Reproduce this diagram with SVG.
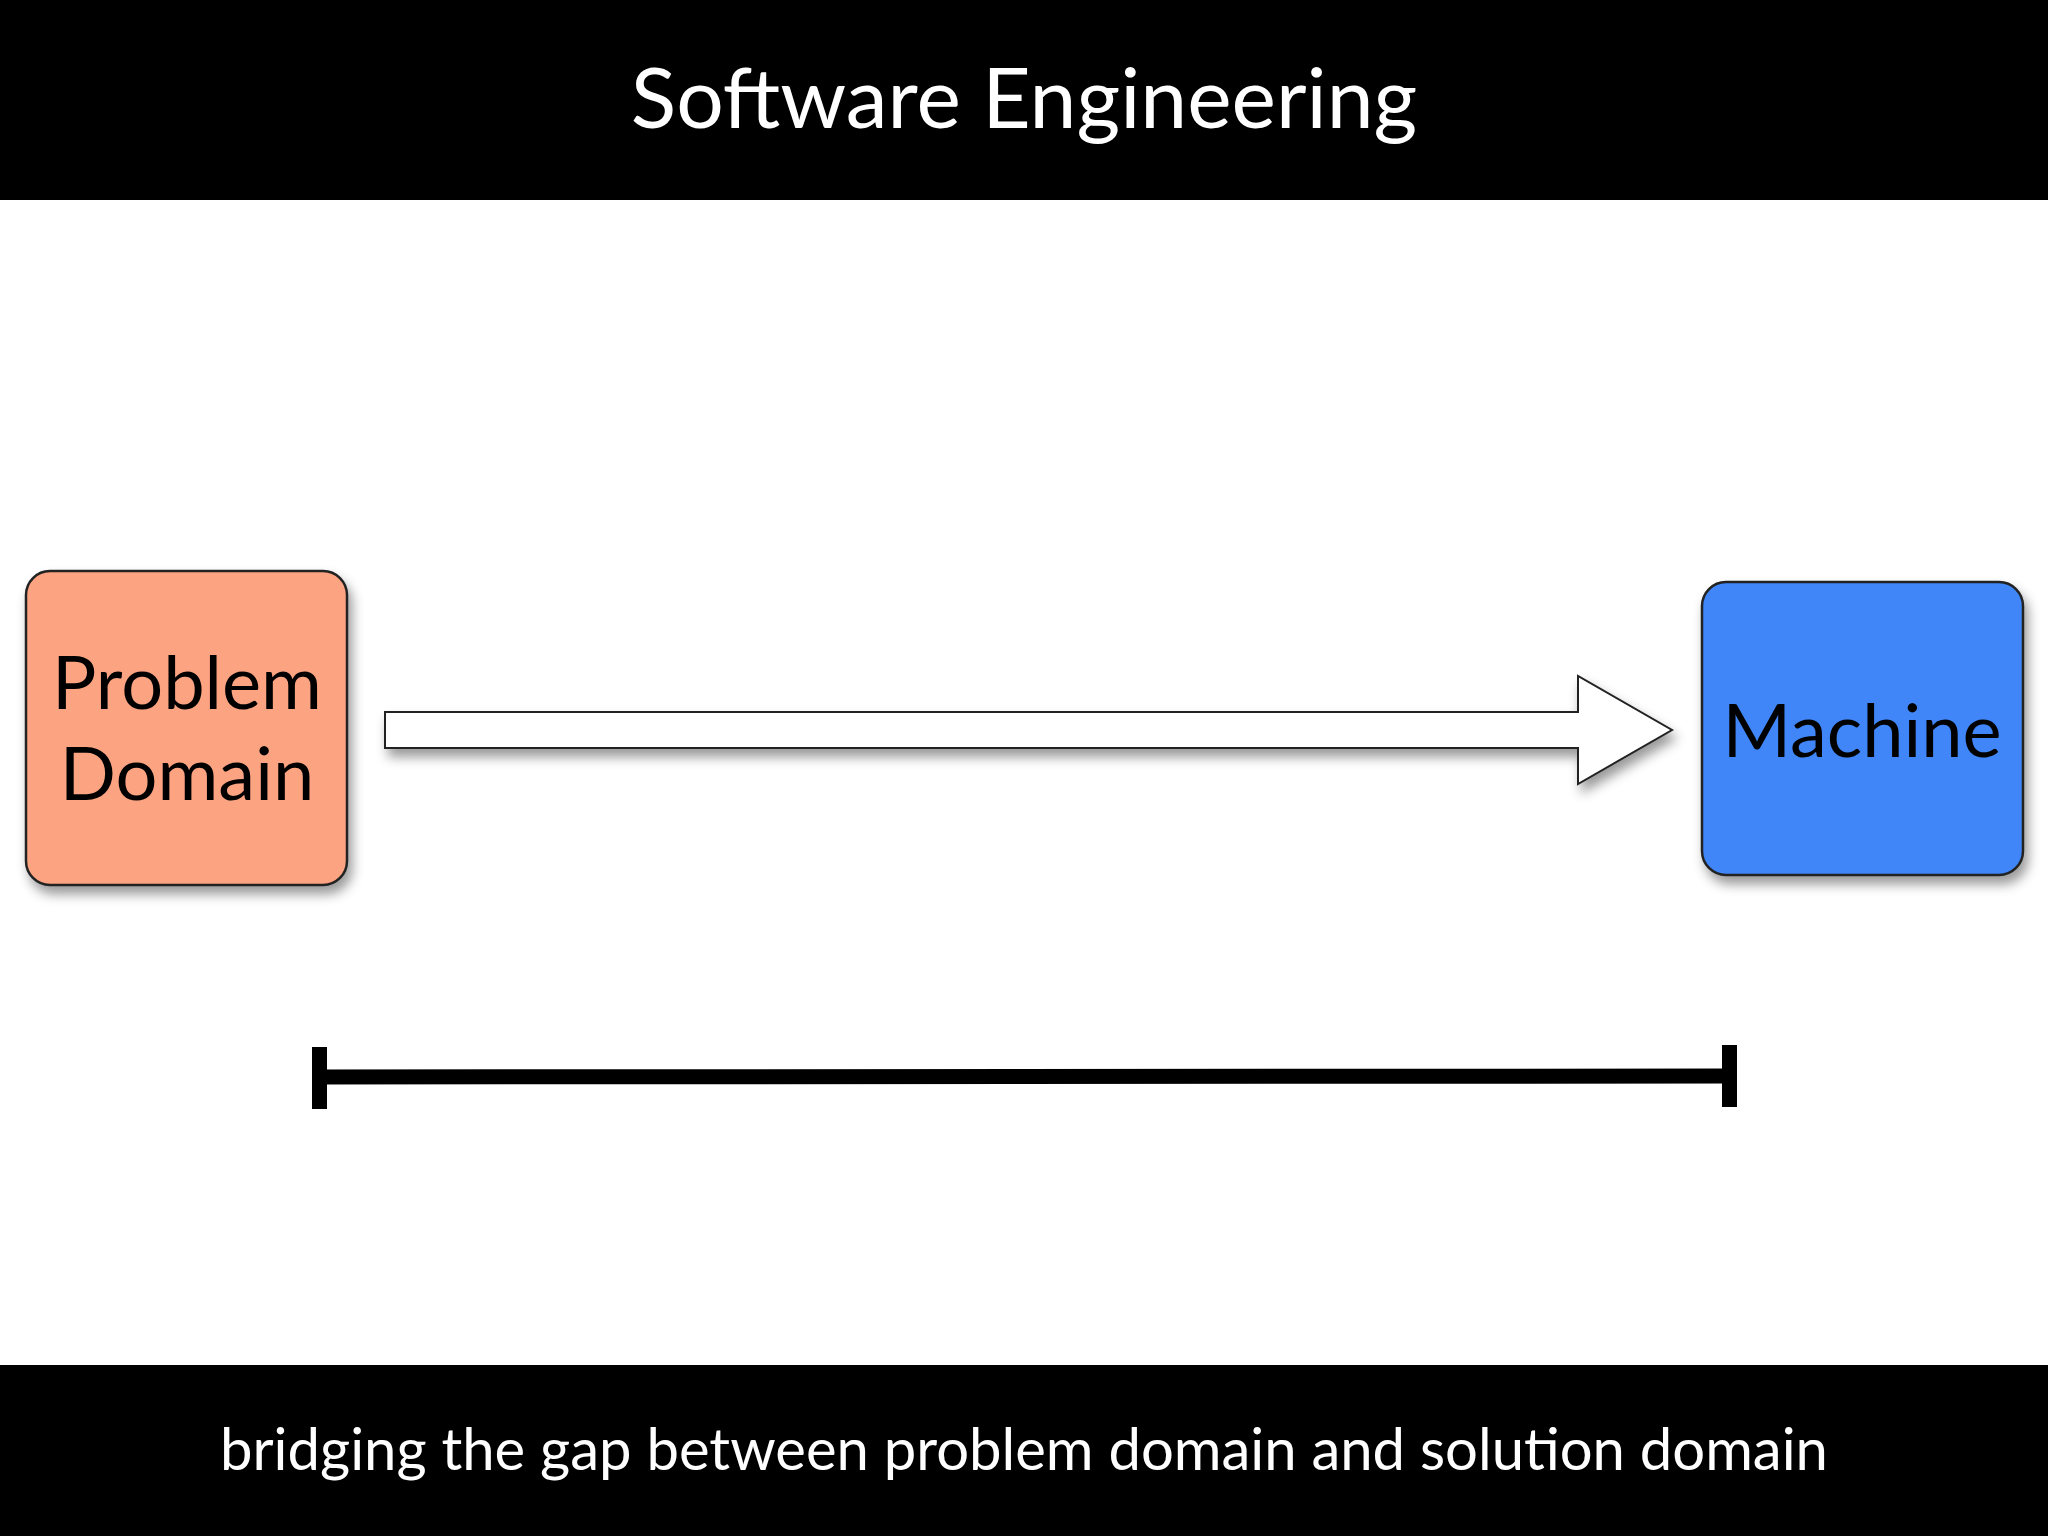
<svg xmlns="http://www.w3.org/2000/svg" width="2048" height="1536" viewBox="0 0 2048 1536">
<defs>
<style>
text{font-family:Lato,"Open Sans","Liberation Sans",sans-serif;text-anchor:middle}
.bar{fill:#000}
.node{stroke:#222;stroke-width:2.5}
.lbl{font-size:74px;fill:#000}
</style>
<filter id="sh" x="-10%" y="-10%" width="130%" height="130%"><feDropShadow dx="4" dy="8" stdDeviation="6" flood-color="#000" flood-opacity="0.4"/></filter>
</defs>
<rect width="2048" height="1536" fill="#fff"/>
<rect class="bar" x="0" y="0" width="2048" height="200"/>
<text x="1024" y="128" font-size="84" fill="#fff">Software Engineering</text>
<rect class="bar" x="0" y="1365" width="2048" height="171"/>
<text x="1024" y="1470" font-size="58" fill="#fff">bridging the gap between problem domain and solution domain</text>
<g id="problem-domain">
<rect class="node" x="26" y="571" width="321" height="314" rx="24" fill="#FCA382" filter="url(#sh)"/>
<text class="lbl" x="187" y="709">Problem</text>
<text class="lbl" x="187" y="800">Domain</text>
</g>
<g id="machine">
<rect class="node" x="1702" y="582" width="321" height="293" rx="24" fill="#3F86F8" filter="url(#sh)"/>
<text class="lbl" x="1862" y="757">Machine</text>
</g>
<g id="connectors">
<polygon points="385,712 1578,712 1578,676 1672,730 1578,784 1578,748 385,748" fill="#fff" stroke="#222" stroke-width="2" filter="url(#sh)"/>
<line x1="319" y1="1077" x2="1729" y2="1076" stroke="#000" stroke-width="15"/>
<rect x="312" y="1047" width="15" height="62" fill="#000"/>
<rect x="1722" y="1045" width="15" height="62" fill="#000"/>
</g>
</svg>
